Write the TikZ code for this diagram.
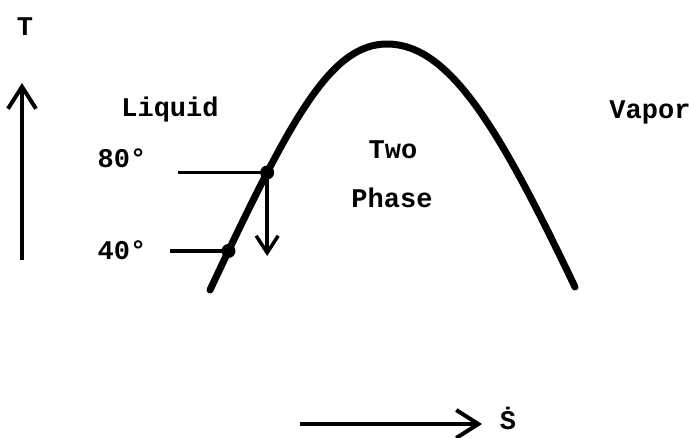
\documentclass[tikz,border=0pt]{standalone}
\usepackage{fontspec}
\setmonofont{Liberation Mono}
\usetikzlibrary{arrows.meta, positioning}

\begin{document}
\begin{tikzpicture}[
  x=1pt, y=-1pt,
  lbl/.style={font=\fontsize{27}{30}\selectfont\ttfamily\bfseries, inner sep=0pt},
  axis/.style={-{Straight Barb[length=22pt, width=28pt, line width=4pt]}, line width=4pt},
  drop/.style={-{Straight Barb[length=17pt, width=22pt, line width=3.5pt]}, line width=3.5pt},
  dome/.style={line width=7pt, line cap=round},
  level/.style={line width=3.5pt},
  pt/.style={circle, fill=black, inner sep=0pt, minimum size=14pt}
]
  \useasboundingbox (0,0) rectangle (689,437);

  % axes
  \node[lbl] (tlab) at (25,27) {T};
  \coordinate (tfoot) at (22,260);
  \coordinate (thead) at (22,83);
  \draw[axis] (tfoot) -- (thead);
  \node[lbl] (slab) at (508,418) {\.S};
  \coordinate (sfoot) at (300,424);
  \coordinate (shead) at (482,424);
  \draw[axis] (sfoot) -- (shead);

  % saturation dome
  \coordinate (lo) at (210,290);
  \coordinate (top) at (387,44);
  \coordinate (hi) at (575,287);
  \draw[dome] (lo) .. controls (290,120) and (330,44) .. (top)
    node[pt, pos=0.27] (p80) {} node[pt, pos=0.08] (p40) {}
    .. controls (450,44) and (500,130) .. (hi);

  % regions
  \node[lbl] (liq) at (170,110) {Liquid};
  \node[lbl] (two) at (393,150) {Two};
  \node[lbl] (phase) at (392,198) {Phase};
  \node[lbl] (vap) at (650,112) {Vapor};

  % temperature levels
  \node[lbl] (t80) at (122,158) {80°};
  \node[lbl] (t40) at (122,250) {40°};
  \coordinate (e80) at (178,170);
  \coordinate (e40) at (170,249);
  \draw[level] (e80 |- p80) -- (p80.center);
  \draw[level] (e40 |- p40) -- (p40.center);
  \coordinate (d80) at (265,256);
  \draw[drop] (p80.center) -- (p80 |- d80);
\end{tikzpicture}
\end{document}
